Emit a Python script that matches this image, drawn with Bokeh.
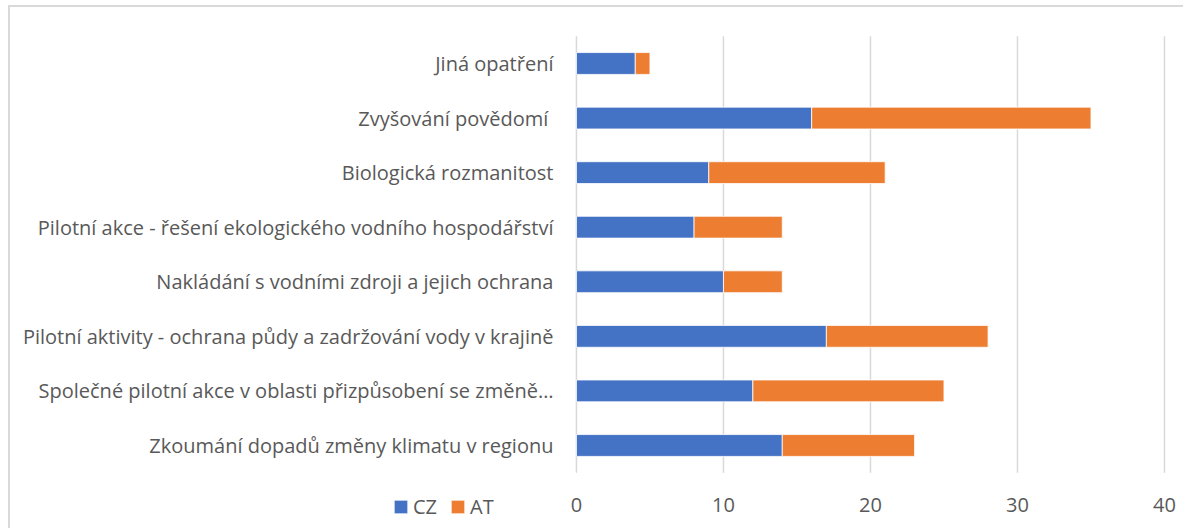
from bokeh.plotting import figure
from bokeh.models import ColumnDataSource, Legend, LegendItem, Range1d
from bokeh.core.properties import value
from bokeh.embed import file_html
from bokeh.resources import INLINE

categories = [
    "Zkoumání dopadů změny klimatu v regionu",
    "Společné pilotní akce v oblasti přizpůsobení se změně…",
    "Pilotní aktivity - ochrana půdy a zadržování vody v krajině",
    "Nakládání s vodními zdroji a jejich ochrana",
    "Pilotní akce - řešení ekologického vodního hospodářství",
    "Biologická rozmanitost",
    "Zvyšování povědomí ",
    "Jiná opatření",
]
cz = [14, 12, 17, 10, 8, 9, 16, 4]
at = [9, 13, 11, 4, 6, 12, 19, 1]
series = ["CZ", "AT"]
colors = ["#4472C4", "#ED7D31"]
x_ticks = [0, 10, 20, 30, 40]

FONT = "Open Sans"
TXT = "#595959"
GRID = "#d9d9d9"

pos = list(range(len(categories)))
src = ColumnDataSource(dict(y=pos, cat=categories, CZ=cz, AT=at))

# The frame spans the whole canvas; axis texts are drawn as glyphs so that
# the legend can sit on the same row as the tick labels.
p = figure(width=1175, height=523, output_backend="svg", toolbar_location=None,
           x_range=Range1d(-38.5, 41.43), y_range=Range1d(-1.558, 8.026),
           min_border=0)
p.styles = {"margin": "5px 0 0 8px",
            "border-left": "2px solid #d9d9d9", "border-top": "2px solid #d9d9d9"}
p.xaxis.visible = False
p.yaxis.visible = False
p.grid.visible = False
p.outline_line_color = None

lo = pos[0] - 0.5
hi = pos[-1] + 0.5
gsrc = ColumnDataSource(dict(x=x_ticks, y0=[lo] * len(x_ticks), y1=[hi] * len(x_ticks),
                             lab=[str(t) for t in x_ticks]))
p.segment(x0="x", y0="y0", x1="x", y1="y1", source=gsrc, line_color=GRID, line_width=1.5)

rs = p.hbar_stack(series, y="y", height=0.4, color=colors, source=src,
                  line_color="white", line_width=0.8)

p.text(x=0, y="y", text="cat", source=src, x_offset=-23, text_align="right",
       text_baseline="middle", text_font=value(FONT), text_font_size=value("20px"),
       text_color=TXT)
p.text(x="x", y="y0", text="lab", source=gsrc, y_offset=32, text_align="center",
       text_baseline="middle", text_font=value(FONT), text_font_size=value("20px"),
       text_color=TXT)

legend = Legend(items=[LegendItem(label=s, renderers=[r]) for s, r in zip(series, rs)],
                orientation="horizontal", location=(382, 10),
                label_text_font=FONT, label_text_color=TXT, label_text_font_size="20px",
                glyph_width=17, glyph_height=17, spacing=12, padding=0, margin=0,
                label_standoff=4, border_line_color=None, background_fill_alpha=0)
p.add_layout(legend, "center")

open("out.html", "w").write(file_html(p, INLINE))
